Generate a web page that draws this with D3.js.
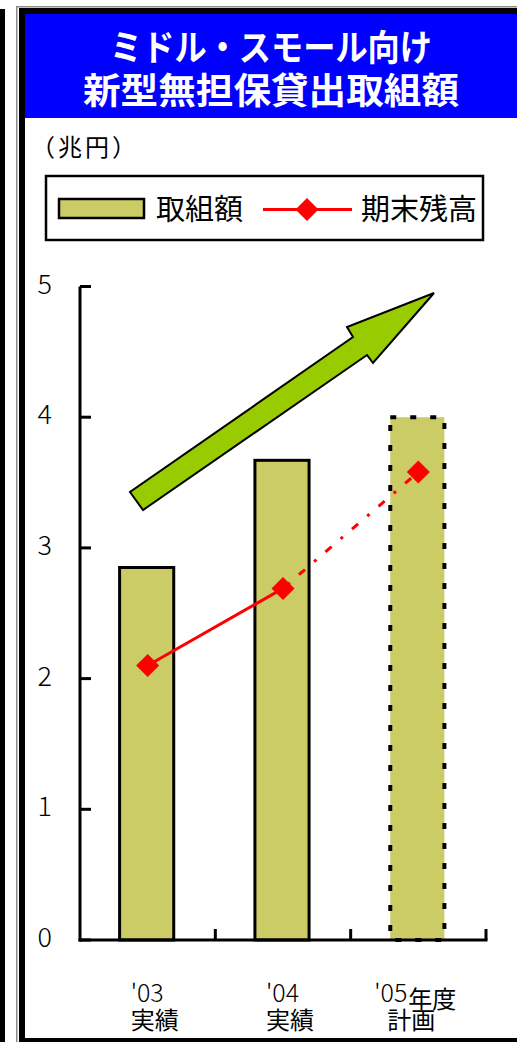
<!DOCTYPE html>
<html>
<head>
<meta charset="utf-8">
<script src="https://cdn.jsdelivr.net/npm/d3@7"></script>
<style>
  html, body { margin: 0; padding: 0; background: #fff; }
  svg { display: block; }
  text { font-family: "Noto Sans CJK JP", "Noto Sans", sans-serif; }
</style>
</head>
<body>
<svg id="chart" width="517" height="1042"></svg>
<script>
// Fiscal years and the two series (trillion yen)
const categories = ["'03", "'04", "'05"];
const categorySubLabels = ["実績", "実績", "計画"];
const amounts = [2.85, 3.67, 4.0];        // 取組額 (bars)
const balances = [2.1, 2.69, 3.58];       // 期末残高 (line)
const planned = [false, false, true];     // '05 is a plan figure
const yTicks = [0, 1, 2, 3, 4, 5];

const titleLines = ["ミドル・スモール向け", "新型無担保貸出取組額"];
const titleWidths = [322, 376];
const unitLabel = "（兆円）";
const legendBar = "取組額";
const legendLine = "期末残高";
const yearSuffix = "年度";

const svg = d3.select("#chart");

// ---- outer frame ----
svg.append("rect").attr("x", 0).attr("y", 9).attr("width", 5).attr("height", 1033).attr("fill", "#000");
svg.append("rect").attr("x", 16).attr("y", 6).attr("width", 1.5).attr("height", 1036).attr("fill", "#8a8a8a");
svg.append("rect").attr("x", 16).attr("y", 6).attr("width", 501).attr("height", 1.5).attr("fill", "#8a8a8a");
svg.append("rect").attr("x", 19).attr("y", 8).attr("width", 498).attr("height", 6).attr("fill", "#000");
svg.append("rect").attr("x", 19).attr("y", 8).attr("width", 6).attr("height", 1034).attr("fill", "#000");
svg.append("rect").attr("x", 19).attr("y", 1038).attr("width", 498).attr("height", 4).attr("fill", "#000");

// ---- title banner ----
svg.append("rect").attr("x", 25).attr("y", 14).attr("width", 492).attr("height", 104).attr("fill", "#0000FF");
svg.append("g").selectAll("text").data(titleLines).join("text")
  .attr("x", 271)
  .attr("y", (d, i) => 61 + i * 43)
  .attr("text-anchor", "middle")
  .attr("fill", "#fff")
  .attr("font-size", 36)
  .attr("font-weight", 700)
  .attr("textLength", (d, i) => titleWidths[i])
  .attr("lengthAdjust", "spacingAndGlyphs")
  .text(d => d);

// ---- unit ----
svg.append("text").attr("x", 31).attr("y", 156).attr("font-size", 24).attr("fill", "#000")
  .attr("letter-spacing", 3).text(unitLabel);

// ---- legend ----
const lg = svg.append("g");
lg.append("rect").attr("x", 46).attr("y", 176).attr("width", 437).attr("height", 64)
  .attr("fill", "#fff").attr("stroke", "#000").attr("stroke-width", 2.5);
lg.append("rect").attr("x", 59).attr("y", 199).attr("width", 85).attr("height", 19)
  .attr("fill", "#CCCC66").attr("stroke", "#000").attr("stroke-width", 2.5);
lg.append("text").attr("x", 156).attr("y", 220).attr("font-size", 29).attr("fill", "#000").text(legendBar);
lg.append("line").attr("x1", 263).attr("x2", 352).attr("y1", 209.5).attr("y2", 209.5)
  .attr("stroke", "#FF0000").attr("stroke-width", 3);
lg.append("path").attr("d", d3.symbol(d3.symbolSquare, 265)())
  .attr("transform", "translate(307,209.5) rotate(45)").attr("fill", "#FF0000");
lg.append("text").attr("x", 361).attr("y", 220).attr("font-size", 29).attr("fill", "#000").text(legendLine);

// ---- scales ----
const x = d3.scaleBand().domain(categories).range([80, 486]).padding(0);
const y = d3.scaleLinear().domain([0, 5]).range([940, 286.5]);
const barW = x.bandwidth() * 0.4;
const cx = c => x(c) + x.bandwidth() / 2;

// ---- growth arrow (decoration) ----
const arrowPts = [[143, 510], [130, 492], [353, 337], [347, 327], [434, 293], [373, 363], [367, 355]];
svg.append("polygon")
  .attr("points", arrowPts.map(p => p.join(",")).join(" "))
  .attr("fill", "#99CC00").attr("stroke", "#000").attr("stroke-width", 2).attr("stroke-linejoin", "miter");

// ---- bars ----
const bars = svg.append("g");
categories.forEach((c, i) => {
  const r = bars.append("rect")
    .attr("x", cx(c) - barW / 2 - 1)
    .attr("y", y(amounts[i]))
    .attr("width", barW)
    .attr("height", y(0) - y(amounts[i]))
    .attr("fill", "#CCCC66");
  if (planned[i]) {
    r.attr("stroke", "#000").attr("stroke-width", 4).attr("stroke-dasharray", "6,14");
  } else {
    r.attr("stroke", "#000").attr("stroke-width", 3);
  }
});

// ---- axes ----
const axes = svg.append("g").attr("stroke", "#000").attr("stroke-width", 3).attr("fill", "none");
axes.append("line").attr("x1", 80).attr("x2", 80).attr("y1", y(5)).attr("y2", y(0) + 1.5);
axes.selectAll(".yt").data(yTicks).join("line")
  .attr("x1", 80).attr("x2", 91).attr("y1", d => y(d)).attr("y2", d => y(d));
axes.append("line").attr("x1", 78.5).attr("x2", 487.5).attr("y1", y(0)).attr("y2", y(0));
axes.selectAll(".xt").data(categories).join("line")
  .attr("x1", c => x(c) + x.bandwidth()).attr("x2", c => x(c) + x.bandwidth())
  .attr("y1", y(0)).attr("y2", y(0) - 11);

svg.append("g").selectAll("text").data(yTicks).join("text")
  .attr("x", 52).attr("y", d => y(d) + 7)
  .attr("text-anchor", "end").attr("font-size", 27).attr("font-weight", 300).attr("fill", "#000")
  .text(d => d);

// ---- x labels: year on the first line, status on the second ----
const xl = svg.append("g").attr("fill", "#000");
categories.forEach((c, i) => {
  const t = xl.append("text").attr("y", 1002).attr("font-size", 25);
  const left = planned[i] ? cx(c) - 44 : cx(c) - 17;
  t.append("tspan").attr("x", left).attr("font-weight", 300).text(c);
  if (planned[i]) {
    t.append("tspan").attr("dx", 1).attr("dy", 6).attr("font-size", 24).text(yearSuffix);
    t.append("tspan").attr("x", cx(c) - 31).attr("dy", 21).attr("font-size", 24).text(categorySubLabels[i]);
  } else {
    t.append("tspan").attr("x", left).attr("dy", 27).attr("font-size", 24).text(categorySubLabels[i]);
  }
});

// ---- balance line ----
const pts = categories.map((c, i) => [cx(c), y(balances[i])]);
svg.append("line")
  .attr("x1", pts[0][0]).attr("y1", pts[0][1]).attr("x2", pts[1][0]).attr("y2", pts[1][1])
  .attr("stroke", "#FF0000").attr("stroke-width", 3);
svg.append("line")
  .attr("x1", pts[1][0]).attr("y1", pts[1][1]).attr("x2", pts[2][0]).attr("y2", pts[2][1])
  .attr("stroke", "#FF0000").attr("stroke-width", 3)
  .attr("stroke-dasharray", "3,12,8,12").attr("stroke-dashoffset", -6);
svg.append("g").selectAll("path").data(pts).join("path")
  .attr("d", d3.symbol(d3.symbolSquare, 265)())
  .attr("transform", d => `translate(${d[0]},${d[1]}) rotate(45)`)
  .attr("fill", "#FF0000");
</script>
</body>
</html>
